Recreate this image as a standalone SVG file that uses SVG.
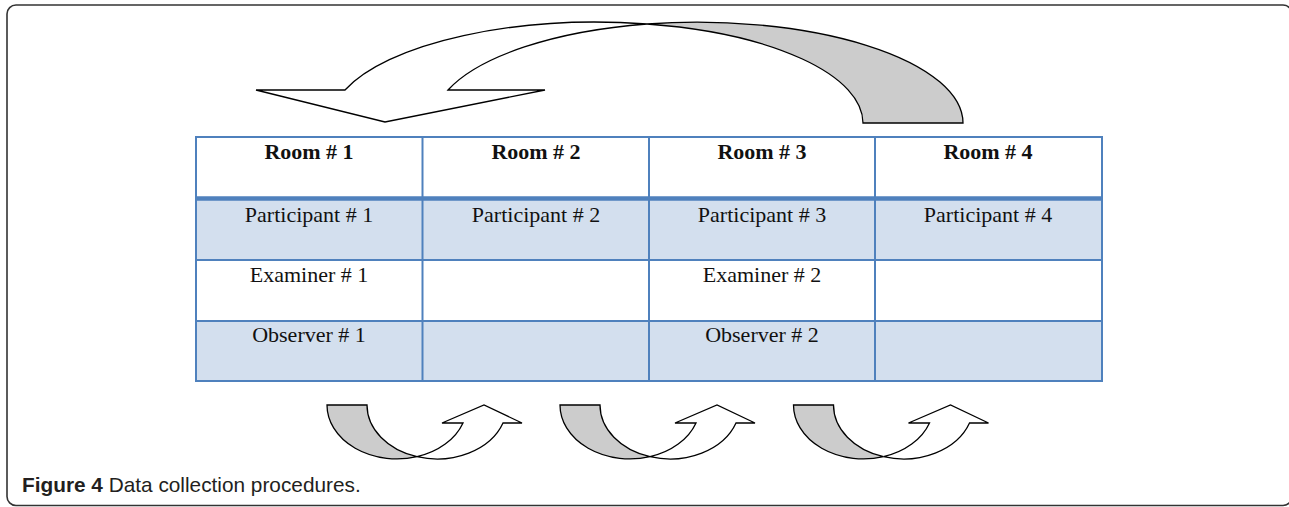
<svg xmlns="http://www.w3.org/2000/svg" width="1289" height="507" viewBox="0 0 1289 507">
<style>
.frame{fill:none;stroke:#333;stroke-width:1.6}
.band{fill:#d3dfee}
.grid{stroke:#4f81bd;stroke-width:2;fill:none}
.thick{stroke:#4f81bd;stroke-width:4.5}
.t{font-family:"Liberation Serif","Times New Roman",serif;font-size:22px;fill:#111;text-anchor:middle}
.h{font-weight:bold}
.white{fill:#fff;stroke:#000;stroke-width:1.3;stroke-linejoin:miter}
.gray{fill:#cccccc;stroke:#000;stroke-width:1.3}
.cap{font-family:"Liberation Sans",Arial,sans-serif;font-size:20.8px;fill:#231f20}
</style>
<defs>
<g id="smallArrow">
<path class="gray" d="M327 405 L367 405 A70 54 0 0 0 417 456.7 A70 54 0 0 1 327 405 Z"/>
<path class="white" d="M417 456.7 A70 54 0 0 0 503 423 L522 423 L484 405 L442 423 L463 423 A70 54 0 0 1 417 456.7 Z"/>
</g>
</defs>
<rect class="frame" x="7" y="5" width="1285" height="500.5" rx="9"/>
<g id="table">
<rect x="196" y="137" width="906" height="244" fill="#fff"/>
<rect class="band" x="196" y="199" width="906" height="61"/>
<rect class="band" x="196" y="321" width="906" height="60"/>
<g id="room1"><text class="t h" x="309" y="159">Room # 1</text></g>
<g id="room2"><text class="t h" x="536" y="159">Room # 2</text></g>
<g id="room3"><text class="t h" x="762" y="159">Room # 3</text></g>
<g id="room4"><text class="t h" x="988" y="159">Room # 4</text></g>
<g id="participant1"><text class="t" x="309" y="222">Participant # 1</text></g>
<g id="participant2"><text class="t" x="536" y="222">Participant # 2</text></g>
<g id="participant3"><text class="t" x="762" y="222">Participant # 3</text></g>
<g id="participant4"><text class="t" x="988" y="222">Participant # 4</text></g>
<g id="examiner1"><text class="t" x="309" y="282">Examiner # 1</text></g>
<g id="examiner2"><text class="t" x="762" y="282">Examiner # 2</text></g>
<g id="observer1"><text class="t" x="309" y="342">Observer # 1</text></g>
<g id="observer2"><text class="t" x="762" y="342">Observer # 2</text></g>
<g class="grid">
<rect x="196" y="137" width="906" height="244"/>
<line x1="422.5" y1="137" x2="422.5" y2="381"/>
<line x1="649" y1="137" x2="649" y2="381"/>
<line x1="875" y1="137" x2="875" y2="381"/>
<line x1="196" y1="260" x2="1102" y2="260"/>
<line x1="196" y1="321" x2="1102" y2="321"/>
</g>
<line class="thick" x1="196" y1="198.5" x2="1102" y2="198.5"/>
</g>
<g id="connectors">
<g id="bigArrow">
<path class="gray" d="M647 24 A266 101 0 0 1 963 123 L863 123 A266 101 0 0 0 647 24 Z"/>
<path class="white" d="M256 90 L345 90 A266 101 0 0 1 647 24 A266 101 0 0 0 448 90 L545 90 L385 122 Z"/>
</g>
<use href="#smallArrow"/>
<use href="#smallArrow" transform="translate(233 0)"/>
<use href="#smallArrow" transform="translate(466.5 0)"/>
</g>
<text class="cap" x="22" y="492"><tspan font-weight="bold">Figure 4</tspan> Data collection procedures.</text>
</svg>
